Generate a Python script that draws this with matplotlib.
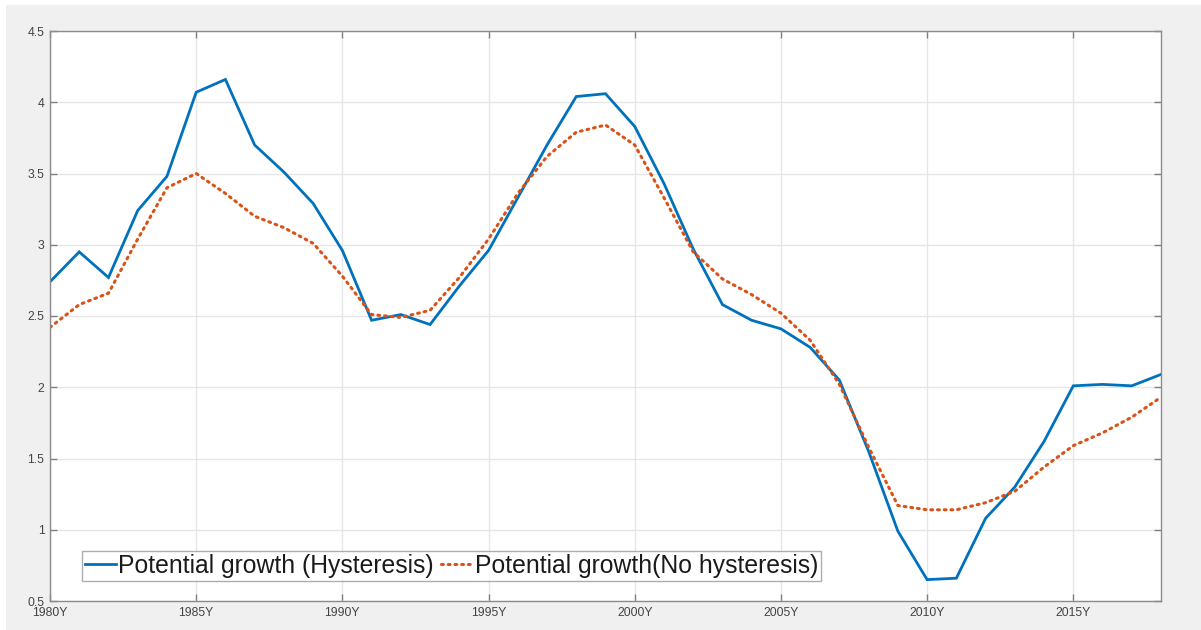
import numpy as np
import matplotlib.pyplot as plt
from matplotlib.patches import Rectangle

plt.rcParams['font.family'] = ['Liberation Sans', 'DejaVu Sans']

years = list(range(1980, 2019))
hyst = [2.74, 2.95, 2.77, 3.24, 3.48, 4.07, 4.16, 3.70, 3.51, 3.29,
        2.96, 2.47, 2.51, 2.44, 2.71, 2.96, 3.33, 3.70, 4.04, 4.06,
        3.83, 3.43, 2.97, 2.58, 2.47, 2.41, 2.28, 2.05, 1.55, 0.99,
        0.65, 0.66, 1.08, 1.30, 1.62, 2.01, 2.02, 2.01, 2.09]
no_hyst = [2.42, 2.58, 2.66, 3.04, 3.40, 3.50, 3.36, 3.20, 3.12, 3.01,
           2.78, 2.51, 2.49, 2.54, 2.77, 3.04, 3.36, 3.62, 3.79, 3.84,
           3.70, 3.33, 2.95, 2.76, 2.65, 2.52, 2.33, 2.02, 1.58, 1.17,
           1.14, 1.14, 1.19, 1.27, 1.44, 1.59, 1.68, 1.79, 1.93]
xticks = [1980, 1985, 1990, 1995, 2000, 2005, 2010, 2015]
xlabels = ['%dY' % y for y in xticks]
yticks = [0.5, 1, 1.5, 2, 2.5, 3, 3.5, 4, 4.5]
ylabels = ['0.5', '1', '1.5', '2', '2.5', '3', '3.5', '4', '4.5']

W, H = 1201, 630
fig = plt.figure(figsize=(W/100, H/100), dpi=100, facecolor='white')
fig.patches.append(Rectangle((6/W, 0), 1, 1-5/H, transform=fig.transFigure,
                             facecolor='#f0f0f0', edgecolor='none', zorder=-10))
ax = fig.add_axes([50/W, 1-601/H, (1161-50)/W, (601-31)/H])
ax.set_facecolor('white')

ax.plot(years, hyst, color='#0072BD', lw=2.0, label='Potential growth (Hysteresis)',
        solid_joinstyle='miter')
ax.plot(years, no_hyst, color='#D95319', lw=2.2, ls=(0, (0.6, 1.6)),
        dash_capstyle='round', label='Potential growth(No hysteresis)')

ax.set_xlim(1980, 2018)
ax.set_ylim(0.5, 4.5)
ax.set_xticks(xticks)
ax.set_xticklabels(xlabels)
ax.set_yticks(yticks)
ax.set_yticklabels(ylabels)
ax.grid(True, color='#e6e6e6', lw=1.0)
ax.set_axisbelow(True)
ax.tick_params(direction='in', top=True, right=True, length=5, width=1,
               color='#808080', labelsize=8.8, labelcolor='#444444', pad=4)
for s in ax.spines.values():
    s.set_color('#8c8c8c')
    s.set_linewidth(1.0)

leg = ax.legend(loc='lower left', bbox_to_anchor=(32/1111, 20/570), ncol=2,
                fontsize=17.8, frameon=True, fancybox=False, edgecolor='#999999',
                handlelength=1.25, handletextpad=0.1, columnspacing=0.3,
                borderpad=0.12, borderaxespad=0)
leg.get_frame().set_linewidth(1.0)
for t in leg.get_texts():
    t.set_color('#1a1a1a')

fig.savefig('out.png', dpi=100, facecolor=fig.get_facecolor())
